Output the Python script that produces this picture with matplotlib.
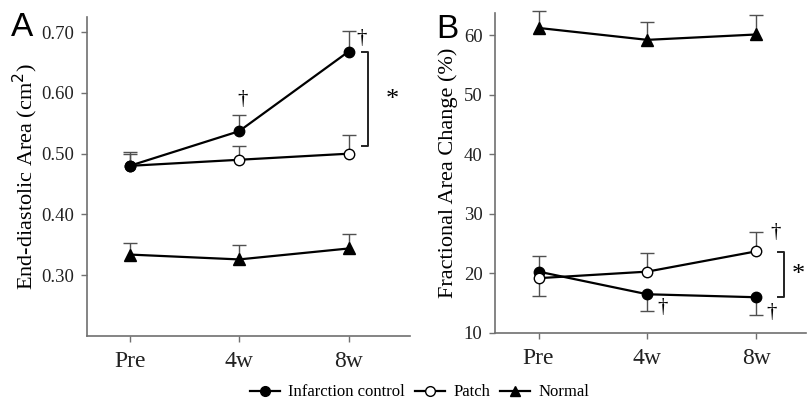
import matplotlib
matplotlib.use("Agg")
import matplotlib.pyplot as plt
from matplotlib.lines import Line2D

# ---- data ----
timepoints = ["Pre", "4w", "8w"]

# Panel A: End-diastolic area (cm^2)
a_infarct = [0.480, 0.537, 0.668]
a_infarct_err = [0.023, 0.026, 0.034]
a_patch = [0.480, 0.490, 0.500]
a_patch_err = [0.020, 0.023, 0.030]
a_normal = [0.334, 0.326, 0.344]
a_normal_err = [0.019, 0.024, 0.024]
a_yticks = [0.30, 0.40, 0.50, 0.60, 0.70]

# Panel B: Fractional area change (%)
b_infarct = [20.3, 16.5, 16.0]
b_infarct_err = [2.6, -2.8, -3.0]   # sign: +up / -down
b_patch = [19.2, 20.3, 23.7]
b_patch_err = [-3.0, 3.1, 3.3]
b_normal = [61.2, 59.2, 60.1]
b_normal_err = [2.9, 3.0, 3.3]
b_yticks = [10, 20, 30, 40, 50, 60]

SERIF = ["Liberation Serif", "DejaVu Serif"]
SPINE = "#707070"
ERRC = "#505050"

fig = plt.figure(figsize=(8.07, 4.05), dpi=100)
axA = fig.add_axes([0.1078, 0.1704, 0.400, 0.7877])
axB = fig.add_axes([0.6134, 0.1778, 0.3855, 0.790])

x = list(range(len(timepoints)))


def one_sided_err(ax, xs, ys, errs, z):
    tops = [y + e for y, e in zip(ys, errs)]
    ax.vlines(xs, ys, tops, color=ERRC, lw=1.0, zorder=z, clip_on=False)
    ax.plot(xs, tops, linestyle="none", marker="_", markersize=10,
            markeredgewidth=1.0, color=ERRC, zorder=z, clip_on=False)


def series(ax, ys, errs, marker, face, z, ms):
    one_sided_err(ax, x, ys, errs, z)
    ax.plot(x, ys, color="black", lw=1.6, marker=marker, markersize=ms,
            markerfacecolor=face, markeredgecolor="black", markeredgewidth=1.0,
            zorder=z + 0.5, clip_on=False)


# Panel A
series(axA, a_normal, a_normal_err, "^", "black", 3, 8)
series(axA, a_patch, a_patch_err, "o", "white", 4, 7.5)
series(axA, a_infarct, a_infarct_err, "o", "black", 5, 7.5)
axA.set_xlim(-0.39, 2.56)
axA.set_ylim(0.20, 0.725)
axA.set_yticks(a_yticks)
axA.set_yticklabels([f"{v:.2f}" for v in a_yticks])
axA.set_ylabel("End-diastolic Area (cm$^2$)", fontsize=16, family=SERIF, labelpad=1)

# Panel B
series(axB, b_normal, b_normal_err, "^", "black", 3, 8)
series(axB, b_infarct, b_infarct_err, "o", "black", 4, 7.5)
series(axB, b_patch, b_patch_err, "o", "white", 5, 7.5)
axB.set_xlim(-0.40, 2.46)
axB.set_ylim(10, 63.7)
axB.set_yticks(b_yticks)
axB.set_yticklabels([str(v) for v in b_yticks])
axB.set_ylabel("Fractional Area Change (%)", fontsize=16, family=SERIF, labelpad=4)

for ax in (axA, axB):
    ax.set_xticks(x)
    ax.set_xticklabels(timepoints)
    for s in ("top", "right"):
        ax.spines[s].set_visible(False)
    for s in ("left", "bottom"):
        ax.spines[s].set_color(SPINE)
        ax.spines[s].set_linewidth(1.2)
    ax.tick_params(axis="both", colors=SPINE, length=4, width=1.0)
    for lab in ax.get_xticklabels():
        lab.set_fontfamily(SERIF)
        lab.set_fontsize(17)
        lab.set_color("#222222")
    for lab in ax.get_yticklabels():
        lab.set_fontfamily(SERIF)
        lab.set_fontsize(13.5)
        lab.set_color("#222222")
    ax.tick_params(axis="x", pad=7)
    ax.tick_params(axis="y", pad=5)

# significance annotations, panel A
DAG = 15
axA.text(1.03, 0.589, "†", family=SERIF, fontsize=DAG, ha="center", va="center")
axA.text(2.12, 0.690, "†", family=SERIF, fontsize=DAG, ha="center", va="center")
axA.plot([2.12, 2.18, 2.18, 2.12], [0.668, 0.668, 0.513, 0.513], color="#222222", lw=1.4, clip_on=False)
axA.text(2.40, 0.588, "*", family=SERIF, fontsize=19, ha="center", va="center")

# significance annotations, panel B
axB.text(2.18, 26.9, "†", family=SERIF, fontsize=DAG, ha="center", va="center")
axB.text(1.14, 14.3, "†", family=SERIF, fontsize=DAG, ha="center", va="center")
axB.text(2.14, 13.4, "†", family=SERIF, fontsize=DAG, ha="center", va="center")
axB.plot([2.20, 2.26, 2.26, 2.20], [23.6, 23.6, 16.0, 16.0], color="#222222", lw=1.4, clip_on=False)
axB.text(2.39, 19.8, "*", family=SERIF, fontsize=19, ha="center", va="center")

# panel letters
fig.text(0.013, 0.912, "A", fontsize=24, family=["Liberation Sans", "DejaVu Sans"])
fig.text(0.540, 0.905, "B", fontsize=24, family=["Liberation Sans", "DejaVu Sans"])

# legend
handles = [
    Line2D([], [], color="black", lw=1.6, marker="o", markersize=7, markerfacecolor="black"),
    Line2D([], [], color="black", lw=1.6, marker="o", markersize=7, markerfacecolor="white"),
    Line2D([], [], color="black", lw=1.6, marker="^", markersize=7, markerfacecolor="black"),
]
fig.legend(handles, ["Infarction control", "Patch", "Normal"], loc="center",
           bbox_to_anchor=(0.520, 0.031), ncol=3, frameon=False,
           prop={"family": SERIF, "size": 12}, handlelength=1.8,
           handletextpad=0.5, columnspacing=0.6)

fig.savefig("out.png", dpi=100)
